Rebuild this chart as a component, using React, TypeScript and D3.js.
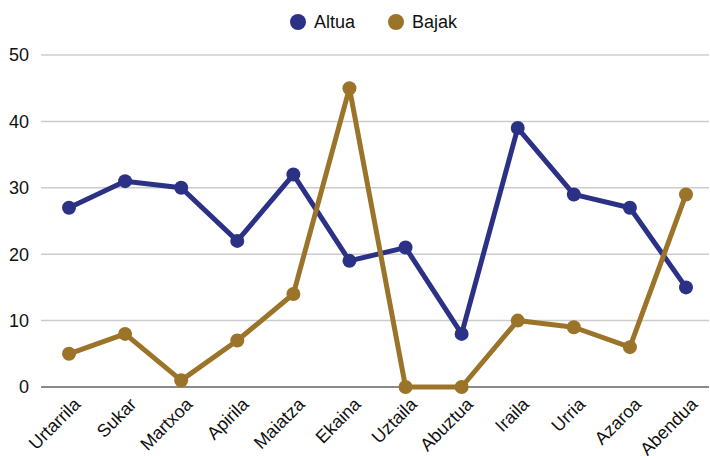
import React, { useEffect, useRef } from 'react'
import * as d3 from 'd3'

const months = ['Urtarrila', 'Sukar', 'Martxoa', 'Apirila', 'Maiatza', 'Ekaina', 'Uztaila', 'Abuztua', 'Iraila', 'Urria', 'Azaroa', 'Abendua']
const altua = [27, 31, 30, 22, 32, 19, 21, 8, 39, 29, 27, 15]
const bajak = [5, 8, 1, 7, 14, 45, 0, 0, 10, 9, 6, 29]
const yTicks = [0, 10, 20, 30, 40, 50]

const series = [
  { name: 'Altua', values: altua, color: '#2b3286' },
  { name: 'Bajak', values: bajak, color: '#9b7429' },
]

export default function App() {
  const ref = useRef<SVGSVGElement>(null)

  useEffect(() => {
    const width = 710
    const height = 456
    const font = '"Liberation Sans", Arial, sans-serif'

    const svg = d3.select(ref.current)
    svg.selectAll('*').remove()

    const x = d3.scalePoint<string>().domain(months).range([69, 686])
    const y = d3.scaleLinear().domain([0, 50]).range([387, 55])

    // grid lines
    svg.append('g')
      .selectAll('line')
      .data(yTicks)
      .enter()
      .append('line')
      .attr('x1', 41)
      .attr('x2', 709)
      .attr('y1', d => y(d))
      .attr('y2', d => y(d))
      .attr('stroke', d => d === 0 ? '#8a8a8a' : '#cccccc')
      .attr('stroke-width', d => d === 0 ? 2 : 1.5)

    // y labels
    svg.append('g')
      .selectAll('text')
      .data(yTicks)
      .enter()
      .append('text')
      .attr('x', 29)
      .attr('y', d => y(d))
      .attr('dy', '0.35em')
      .attr('text-anchor', 'end')
      .attr('font-family', font)
      .attr('font-size', 18)
      .attr('fill', '#111')
      .text(d => d)

    // x labels
    svg.append('g')
      .selectAll('text')
      .data(months)
      .enter()
      .append('text')
      .attr('transform', d => 'translate(' + (x(d)! + 8) + ',' + 401 + ') rotate(-45)')
      .attr('text-anchor', 'end')
      .attr('dy', '0.35em')
      .attr('font-family', font)
      .attr('font-size', 18)
      .attr('fill', '#111')
      .text(d => d)

    const line = d3.line<number>()
      .x((d, i) => x(months[i])!)
      .y(d => y(d))

    series.forEach(s => {
      svg.append('path')
        .attr('d', line(s.values))
        .attr('fill', 'none')
        .attr('stroke', s.color)
        .attr('stroke-width', 5)
        .attr('stroke-linejoin', 'round')

      svg.append('g')
        .selectAll('circle')
        .data(s.values)
        .enter()
        .append('circle')
        .attr('cx', (d, i) => x(months[i])!)
        .attr('cy', d => y(d))
        .attr('r', 7)
        .attr('fill', s.color)
    })

    // legend
    const legendX = [298, 396]
    series.forEach((s, i) => {
      const g = svg.append('g').attr('transform', 'translate(' + legendX[i] + ',22)')
      g.append('circle').attr('r', 8).attr('fill', s.color)
      g.append('text')
        .attr('x', 16)
        .attr('dy', '0.35em')
        .attr('font-family', font)
        .attr('font-size', 18)
        .attr('fill', '#111')
        .text(s.name)
    })

    svg.attr('width', width).attr('height', height)
  }, [])

  return (
    <div style={{ position: 'absolute', left: 0, top: 0 }}>
      <svg ref={ref} width={710} height={456} style={{ display: 'block', background: '#fff' }}></svg>
    </div>
  )
}
